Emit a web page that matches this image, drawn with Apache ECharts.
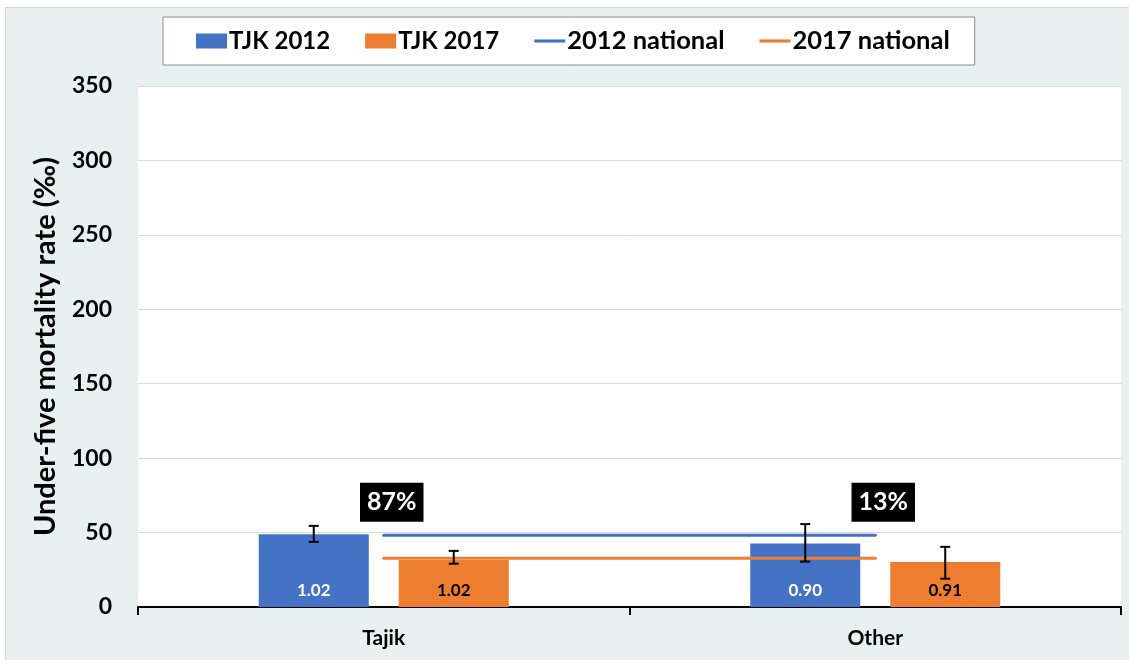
<!DOCTYPE html>
<html>
<head>
<meta charset="utf-8">
<script src="https://cdn.jsdelivr.net/npm/echarts@6/dist/echarts.min.js"></script>
<style>
    html, body { margin: 0; padding: 0; background: #fff; }
    #main {
        position: absolute;
        left: 5px;
        top: 7px;
        width: 1124px;
        height: 653px;
        border-left: 1px solid #d6d6d6;
        border-top: 1px solid #d6d6d6;
        background: #e9f0f2;
    }
</style>
</head>
<body>
<div id="main"></div>
<script>
// categories and values
var groups = ['Tajik', 'Other']
var tjk2012 = [48.9, 42.6]
var tjk2017 = [31.5, 30.3]
var ratio2012 = ['1.02', '0.90']
var ratio2017 = ['1.02', '0.91']
var errLow2012 = [43.7, 30.5]
var errHigh2012 = [54.5, 55.7]
var errLow2017 = [29.1, 19.0]
var errHigh2017 = [37.7, 40.4]
var national2012 = [48.2, 48.2]
var national2017 = [32.8, 32.8]
var shares = ['87%', '13%']
var shareY = [70.3, 70.3]

var BLUE = '#4472c4'
var ORANGE = '#ed7d31'
var FONT = 'Lato'
var BAR_W = 110
var GAP_PX = 30
var LINE_ICON = 'path://M0,0 L30,0 L30,3 L0,3 Z'

function errData(lo, hi, side) {
    return lo.map(function (v, i) { return [i, v, hi[i], side] })
}

function renderErr(params, api) {
    var i = api.value(0)
    var side = api.value(3)
    var top = api.coord([i, api.value(2)])
    var bot = api.coord([i, api.value(1)])
    var x = top[0] + side * (BAR_W + GAP_PX) / 2
    var style = { stroke: '#000', lineWidth: 2 }
    var cap = 5
    return {
        type: 'group',
        children: [
            { type: 'line', shape: { x1: x, y1: top[1], x2: x, y2: bot[1] }, style: style },
            { type: 'line', shape: { x1: x - cap, y1: top[1], x2: x + cap, y2: top[1] }, style: style },
            { type: 'line', shape: { x1: x - cap, y1: bot[1], x2: x + cap, y2: bot[1] }, style: style }
        ]
    }
}

var chart = echarts.init(document.getElementById('main'))
var option = {
    animation: false,
    textStyle: { fontFamily: FONT },
    legend: {
        data: [
            { name: 'TJK 2012', icon: 'rect' },
            { name: 'TJK 2017', icon: 'rect' },
            { name: '2012 national', icon: LINE_ICON, textStyle: { fontSize: 25.5 } },
            { name: '2017 national', icon: LINE_ICON, textStyle: { fontSize: 25.5 } }
        ],
        left: 157,
        top: 9,
        padding: [11, 25, 11, 33],
        itemGap: 35,
        itemWidth: 31,
        itemHeight: 15,
        symbolKeepAspect: true,
        backgroundColor: '#fff',
        borderColor: '#8c8c8c',
        borderWidth: 1,
        textStyle: { fontFamily: FONT, fontWeight: 'bold', fontSize: 24, color: '#000', padding: [0, 0, 0, -3] }
    },
    grid: {
        left: 132,
        right: 9,
        top: 78,
        bottom: 54,
        show: true,
        backgroundColor: '#fff',
        borderWidth: 0
    },
    xAxis: {
        type: 'category',
        data: groups,
        axisLine: { lineStyle: { color: '#000', width: 2 } },
        axisTick: { show: true, length: 8, lineStyle: { color: '#000', width: 2 } },
        axisLabel: { margin: 21, fontFamily: FONT, fontWeight: 'bold', fontSize: 21, color: '#000' }
    },
    yAxis: {
        type: 'value',
        min: 0,
        max: 350,
        interval: 50,
        name: 'Under-five mortality rate (‰)',
        nameLocation: 'middle',
        nameGap: 78,
        nameTextStyle: { fontFamily: FONT, fontWeight: 'bold', fontSize: 29, color: '#000' },
        axisLine: { show: false },
        axisTick: { show: false },
        axisLabel: { margin: 26, fontFamily: FONT, fontWeight: 'bold', fontSize: 23, color: '#000' },
        splitLine: { lineStyle: { color: '#d9d9d9', width: 1 } }
    },
    series: [
        {
            name: 'TJK 2012',
            type: 'bar',
            data: tjk2012,
            barWidth: BAR_W,
            barGap: (GAP_PX / BAR_W * 100) + '%',
            itemStyle: { color: BLUE },
            label: {
                show: true,
                position: 'insideBottom',
                distance: 8,
                formatter: function (p) { return ratio2012[p.dataIndex] },
                fontFamily: FONT, fontWeight: 'bold', fontSize: 17, color: '#fff'
            }
        },
        {
            name: 'TJK 2017',
            type: 'bar',
            data: tjk2017,
            barWidth: BAR_W,
            itemStyle: { color: ORANGE },
            label: {
                show: true,
                position: 'insideBottom',
                distance: 8,
                formatter: function (p) { return ratio2017[p.dataIndex] },
                fontFamily: FONT, fontWeight: 'bold', fontSize: 17, color: '#000'
            }
        },
        {
            name: '2012 national',
            type: 'line',
            data: national2012,
            symbol: 'none',
            z: 3,
            itemStyle: { color: BLUE },
            lineStyle: { color: BLUE, width: 3, cap: 'round' }
        },
        {
            name: '2017 national',
            type: 'line',
            data: national2017,
            symbol: 'none',
            z: 3,
            itemStyle: { color: ORANGE },
            lineStyle: { color: ORANGE, width: 3, cap: 'round' }
        },
        {
            type: 'custom',
            renderItem: renderErr,
            data: errData(errLow2012, errHigh2012, -1),
            z: 4
        },
        {
            type: 'custom',
            renderItem: renderErr,
            data: errData(errLow2017, errHigh2017, 1),
            z: 4
        },
        {
            type: 'scatter',
            data: shareY,
            symbolSize: 0,
            z: 5,
            itemStyle: { opacity: 1 },
            label: {
                show: true,
                position: 'inside',
                offset: [8, 0],
                formatter: function (p) { return shares[p.dataIndex] },
                backgroundColor: '#000',
                color: '#fff',
                padding: [8, 7, 6, 7],
                fontFamily: FONT, fontWeight: 'bold', fontSize: 25
            }
        }
    ]
}
chart.setOption(option)
</script>
</body>
</html>
